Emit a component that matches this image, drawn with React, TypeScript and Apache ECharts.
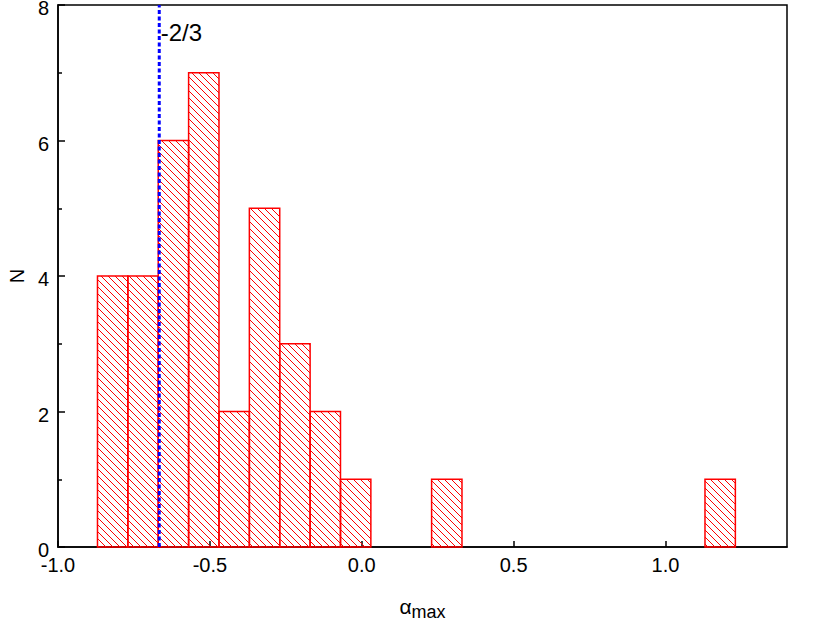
import React, { useEffect, useRef } from "react";
import * as echarts from "echarts";

const binLefts = [-0.87, -0.77, -0.67, -0.57, -0.47, -0.37, -0.27, -0.17, -0.07, 0.23, 1.13];
const binWidth = 0.1;
const counts = [4, 4, 6, 7, 2, 5, 3, 2, 1, 1, 1];
const refValue = -2 / 3;
const refLabel = "-2/3";
const xTicks = { min: -1.0, max: 1.4, interval: 0.5 };
const yTicks = { min: 0, max: 8, interval: 2 };

export default function App() {
  const ref = useRef<HTMLDivElement>(null);
  useEffect(() => {
    if (!ref.current) return;
    const chart = echarts.init(ref.current, null, { renderer: "svg" });
    const data = binLefts.map((l, i) => [l, l + binWidth, counts[i]]);
    const font = "'Liberation Sans', Arial, sans-serif";
    chart.setOption({
      animation: false,
      textStyle: { fontFamily: font },
      grid: {
        left: 58,
        right: 43,
        top: 5,
        bottom: 82,
        show: true,
        borderColor: "#000",
        borderWidth: 1.5,
        backgroundColor: "transparent",
        containLabel: false,
        outerBoundsMode: "none",
      },
      xAxis: {
        type: "value",
        min: xTicks.min,
        max: xTicks.max,
        interval: xTicks.interval,
        name: "{a|α}{s|max}",
        nameLocation: "middle",
        nameGap: 44,
        nameTextStyle: {
          rich: {
            a: { fontSize: 21, fontFamily: font, color: "#000" },
            s: { fontSize: 18, fontFamily: font, color: "#000", verticalAlign: "bottom", padding: [12, 0, 0, 0] },
          },
        },
        axisLine: { show: true, onZero: false, lineStyle: { color: "#000", width: 1.5 } },
        axisTick: { show: true, inside: true, length: 6, lineStyle: { color: "#000", width: 1.5 } },
        axisLabel: {
          show: true,
          fontSize: 20,
          color: "#000",
          margin: 8,
          fontFamily: font,
          showMaxLabel: false,
          formatter: (v: number) => v.toFixed(1),
        },
        splitLine: { show: false },
      },
      yAxis: {
        type: "value",
        min: yTicks.min,
        max: yTicks.max,
        interval: yTicks.interval,
        name: "N",
        nameLocation: "middle",
        nameGap: 30,
        nameRotate: 90,
        nameTextStyle: { fontSize: 20, color: "#000", fontFamily: font },
        axisLine: { show: true, onZero: false, lineStyle: { color: "#000", width: 1.5 } },
        axisTick: { show: true, inside: true, length: 7, lineStyle: { color: "#000", width: 1.5 } },
        minorTick: { show: true, splitNumber: 2, length: 4, lineStyle: { color: "#000", width: 1.5 } },
        axisLabel: {
          fontSize: 20,
          color: "#000",
          margin: 9,
          fontFamily: font,
          verticalAlign: "top",
          lineHeight: 6,
        },
        splitLine: { show: false },
      },
      series: [
        {
          type: "custom",
          data,
          encode: { x: [0, 1], y: 2 },
          clip: false,
          z: 2,
          renderItem: (params: any, api: any) => {
            const x0v = api.value(0);
            const x1v = api.value(1);
            const n = api.value(2);
            const p0 = api.coord([x0v, n]);
            const p1 = api.coord([x1v, 0]);
            const left = p0[0];
            const top = p0[1];
            const right = p1[0];
            const bottom = p1[1];
            const children: any[] = [];
            const step = 7;
            const cMin = top - right;
            const cMax = bottom - left;
            for (let c = Math.ceil(cMin / step) * step; c <= cMax; c += step) {
              const xs = Math.max(left, top - c);
              const xe = Math.min(right, bottom - c);
              if (xe > xs) {
                children.push({
                  type: "line",
                  shape: { x1: xs, y1: xs + c, x2: xe, y2: xe + c },
                  style: { stroke: "#ff0000", lineWidth: 1 },
                });
              }
            }
            children.push({
              type: "rect",
              shape: { x: left, y: top, width: right - left, height: bottom - top },
              style: { fill: "none", stroke: "#ff0000", lineWidth: 1.5 },
            });
            return { type: "group", children };
          },
        },
        {
          type: "line",
          data: [
            { value: [refValue, yTicks.min], label: { show: false } },
            {
              value: [refValue, yTicks.max],
              label: {
                show: true,
                formatter: refLabel,
                position: "right",
                distance: 0,
                offset: [1, 27],
                fontSize: 24,
                color: "#000",
                fontFamily: font,
              },
            },
          ],
          symbol: "circle",
          symbolSize: 1,
          showSymbol: true,
          itemStyle: { color: "rgba(0,0,0,0)" },
          z: 5,
          lineStyle: { color: "#0000ff", width: 3, type: [4, 2.5] },
        },
      ],
    });
    return () => chart.dispose();
  }, []);
  return (
    <div
      ref={ref}
      style={{ position: "absolute", left: 0, top: 0, width: 830, height: 629 }}
    />
  );
}
